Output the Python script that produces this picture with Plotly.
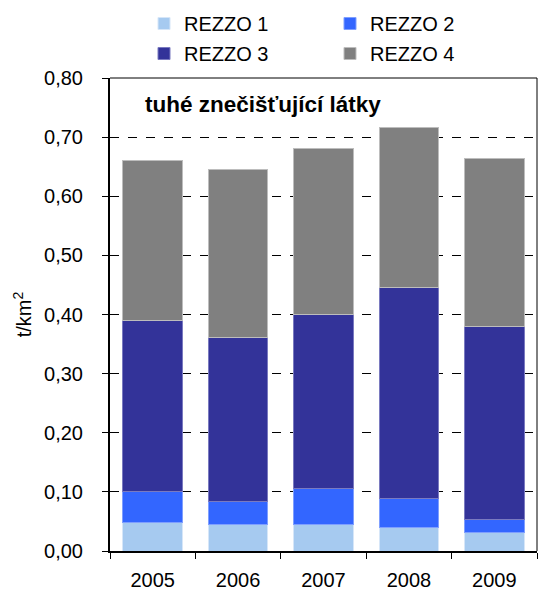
import plotly.graph_objects as go

years = ["2005", "2006", "2007", "2008", "2009"]
rezzo1 = [0.049, 0.044, 0.045, 0.040, 0.031]
rezzo2 = [0.051, 0.040, 0.060, 0.049, 0.023]
rezzo3 = [0.290, 0.277, 0.295, 0.357, 0.326]
rezzo4 = [0.270, 0.285, 0.280, 0.271, 0.284]

names = ["REZZO 1", "REZZO 2", "REZZO 3", "REZZO 4"]
series = [rezzo1, rezzo2, rezzo3, rezzo4]
colors = ["#A6CAF0", "#3366FF", "#333399", "#808080"]
edges = ["#D6E6F8", "#7F9FFF", "#7A7AC0", "#BDBDBD"]
legends = ["legend", "legend", "legend2", "legend2"]

fig = go.Figure()
for n, s, c, e, lg in zip(names, series, colors, edges, legends):
    fig.add_trace(go.Bar(x=years, y=s, name=n, legend=lg,
                         marker=dict(color=c, line=dict(color=e, width=1))))

font = "Arial, Liberation Sans, sans-serif"
leg_common = dict(orientation="h", xref="container", yref="container", x=144 / 539, xanchor="left",
                  yanchor="top", entrywidth=141, traceorder="normal", font=dict(size=20),
                  itemwidth=30, bgcolor="rgba(0,0,0,0)")
fig.update_layout(
    barmode="stack",
    bargap=0.30,
    width=539, height=590,
    margin=dict(l=110, r=2, t=78, b=39, autoexpand=False),
    paper_bgcolor="white", plot_bgcolor="white",
    separators=", ",
    font=dict(family=font, size=20, color="black"),
    legend=dict(leg_common, y=1 - 4 / 590),
    legend2=dict(leg_common, y=1 - 34 / 590),
    xaxis=dict(showline=True, linecolor="black", linewidth=2, ticks="outside", tickson="boundaries",
               ticklen=6, tickcolor="black", showgrid=False, tickfont=dict(size=20),
               ticklabelstandoff=10),
    yaxis=dict(range=[0, 0.8], dtick=0.1, tickformat=".2f", showline=True, linecolor="black", linewidth=2,
               ticks="outside", ticklen=6, tickcolor="black", showgrid=True, gridcolor="black",
               griddash="dash", gridwidth=1, zeroline=False, tickfont=dict(size=20),
               ticklabelstandoff=15,
               title=dict(text="t/km<sup>2</sup>", font=dict(size=20), standoff=7)),
    shapes=[
        dict(type="line", xref="paper", yref="paper", x0=0, x1=1, y0=1, y1=1, line=dict(color="black", width=1)),
        dict(type="line", xref="paper", yref="paper", x0=1, x1=1, y0=0, y1=1, line=dict(color="black", width=1)),
    ],
    annotations=[dict(text="<b>tuhé znečišťující látky</b>", xref="paper", yref="paper", x=0.077, y=0.945,
                      xanchor="left", yanchor="middle", showarrow=False, font=dict(size=22.5))],
)
fig.write_html("out.html", config={"displayModeBar": False},
               post_script="document.body.style.margin='0px';")
